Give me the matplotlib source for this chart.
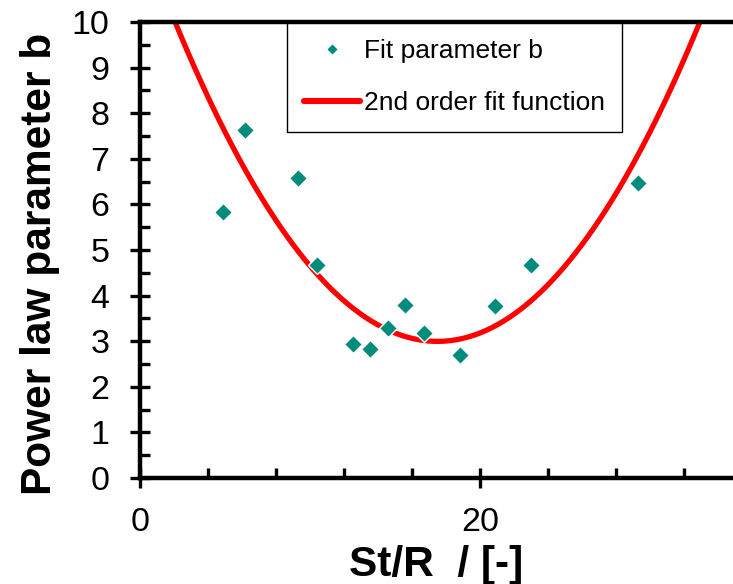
import numpy as np
import matplotlib
matplotlib.use("Agg")
import matplotlib.pyplot as plt
from matplotlib.ticker import MultipleLocator

# Data
st_r = [4.9, 6.2, 9.3, 10.4, 12.5, 13.5, 14.6, 15.6, 16.7, 18.8, 20.9, 23.0, 29.3]
b_vals = [5.83, 7.63, 6.58, 4.67, 2.94, 2.82, 3.30, 3.79, 3.17, 2.70, 3.78, 4.68, 6.48]

# 2nd order fit coefficients (a*x^2 + b*x + c)
fit_coeffs = [0.0294, -1.029, 12.0]

x_ticks_major = [0, 20]
y_ticks_major = list(range(0, 11))

plt.rcParams['font.family'] = ['Liberation Sans', 'DejaVu Sans']

fig = plt.figure(figsize=(7.33, 5.84), dpi=100)
ax = fig.add_axes([140/733, 1 - 478/584, 1 - 140/733, (478 - 22)/584])

xf = np.linspace(0, 35, 400)
yf = np.polyval(fit_coeffs, xf)
ax.plot(xf, yf, color='#ff0000', lw=3.8, solid_capstyle='round',
        label='2nd order fit function', zorder=2)
ax.plot(st_r, b_vals, linestyle='none', marker='D', markersize=9.6,
        markerfacecolor='#008c7c', markeredgecolor='white', markeredgewidth=1.0,
        label='Fit parameter b', zorder=3)

ax.set_xlim(0, (733 - 140) / 17.0)
ax.set_ylim(0, 10)

ax.set_xticks(x_ticks_major)
ax.set_yticks(y_ticks_major)
ax.xaxis.set_minor_locator(MultipleLocator(4))
ax.yaxis.set_minor_locator(MultipleLocator(0.5))

ax.tick_params(which='major', direction='inout', length=14, width=2.4,
               labelsize=24.5, color='black')
ax.tick_params(axis='y', which='major', pad=15)
ax.tick_params(axis='x', which='major', pad=14)
ax.tick_params(which='minor', direction='in', length=7, width=2.4, color='black')

for side in ['left', 'bottom', 'top']:
    ax.spines[side].set_linewidth(3.2)
    ax.spines[side].set_color('black')
ax.spines['right'].set_visible(False)

ax.set_xlabel('St/R  / [-]', fontsize=30.5, fontweight='bold', labelpad=5)
ax.set_ylabel('Power law parameter b', fontsize=30.5, fontweight='bold', labelpad=8)
ax.yaxis.label.set_y(0.47)

handles, labels = ax.get_legend_handles_labels()
order = [1, 0]
leg = ax.legend([handles[i] for i in order], [labels[i] for i in order],
                loc='upper left', bbox_to_anchor=((287 - 140) / 593, 1.0),
                borderaxespad=0, fontsize=19, frameon=True, fancybox=False,
                edgecolor='black', framealpha=1, markerscale=0.6,
                handlelength=2.1, handletextpad=0.15, borderpad=0.65,
                labelspacing=1.05)
leg.get_frame().set_linewidth(1.0)
leg.set_zorder(1)
for h in leg.legend_handles:
    if h.get_linestyle() not in ('None', 'none', ''):
        h.set_linewidth(4.4)

fig.savefig('out.png', dpi=100)
